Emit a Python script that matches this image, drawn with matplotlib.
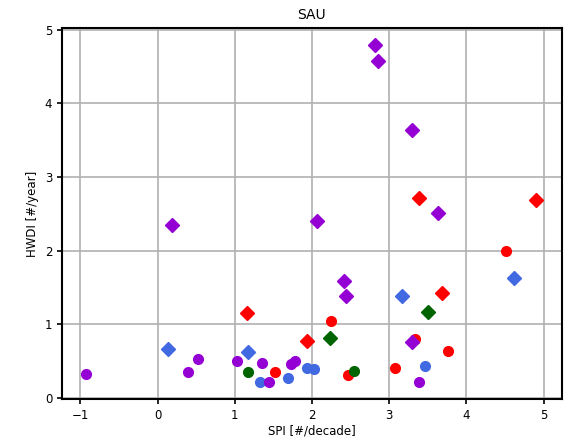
import matplotlib
matplotlib.use("Agg")
import matplotlib.pyplot as plt

title = "SAU"
xlabel = "SPI [#/decade]"
ylabel = "HWDI [#/year]"

# purple diamonds
purple_d_x = [2.82, 2.85, 3.29, 3.63, 0.19, 2.07, 2.42, 2.44, 3.30]
purple_d_y = [4.80, 4.57, 3.64, 2.51, 2.35, 2.40, 1.59, 1.39, 0.76]
# purple circles
purple_o_x = [0.52, 0.40, -0.93, 1.03, 1.35, 1.44, 1.73, 1.78, 3.39]
purple_o_y = [0.53, 0.35, 0.33, 0.50, 0.47, 0.22, 0.46, 0.50, 0.22]
# red diamonds
red_d_x = [3.39, 4.90, 3.69, 1.16, 1.93]
red_d_y = [2.72, 2.69, 1.43, 1.15, 0.77]
# red circles
red_o_x = [4.52, 2.25, 1.52, 2.47, 3.07, 3.33, 3.76]
red_o_y = [2.00, 1.05, 0.35, 0.31, 0.40, 0.80, 0.63]
# blue diamonds
blue_d_x = [4.62, 3.17, 0.13, 1.17]
blue_d_y = [1.63, 1.39, 0.67, 0.62]
# blue circles
blue_o_x = [1.33, 1.69, 1.93, 2.02, 3.46]
blue_o_y = [0.21, 0.27, 0.40, 0.39, 0.43]
# green diamonds
green_d_x = [3.50, 2.23]
green_d_y = [1.17, 0.81]
# green circles
green_o_x = [1.17, 2.55]
green_o_y = [0.35, 0.37]

fig = plt.figure(figsize=(5.68, 4.43), dpi=100)
ax = fig.add_axes([0.109, 0.0986, 0.880, 0.839])

series = [
    (red_o_x, red_o_y, "red", "o"),
    (red_d_x, red_d_y, "red", "D"),
    (blue_o_x, blue_o_y, "royalblue", "o"),
    (blue_d_x, blue_d_y, "royalblue", "D"),
    (green_o_x, green_o_y, "darkgreen", "o"),
    (green_d_x, green_d_y, "darkgreen", "D"),
    (purple_o_x, purple_o_y, "darkviolet", "o"),
    (purple_d_x, purple_d_y, "darkviolet", "D"),
]
for xs, ys, c, m in series:
    ax.plot(xs, ys, linestyle="none", marker=m, color=c, markersize=7, zorder=3)

ax.set_xlim(-1.24, 5.236)
ax.set_ylim(-0.02, 5.03)
ax.set_xticks(range(-1, 6))
ax.set_yticks(range(0, 6))
ax.grid(True, color="#b0b0b0", linewidth=1.2)
ax.set_axisbelow(True)
for s in ax.spines.values():
    s.set_linewidth(1.5)
ax.tick_params(labelsize=8.5, width=1.2)
ax.set_title(title, fontsize=10)
ax.set_xlabel(xlabel, fontsize=8.5, labelpad=2)
ax.set_ylabel(ylabel, fontsize=8.5)

fig.savefig("out.png", dpi=100)
